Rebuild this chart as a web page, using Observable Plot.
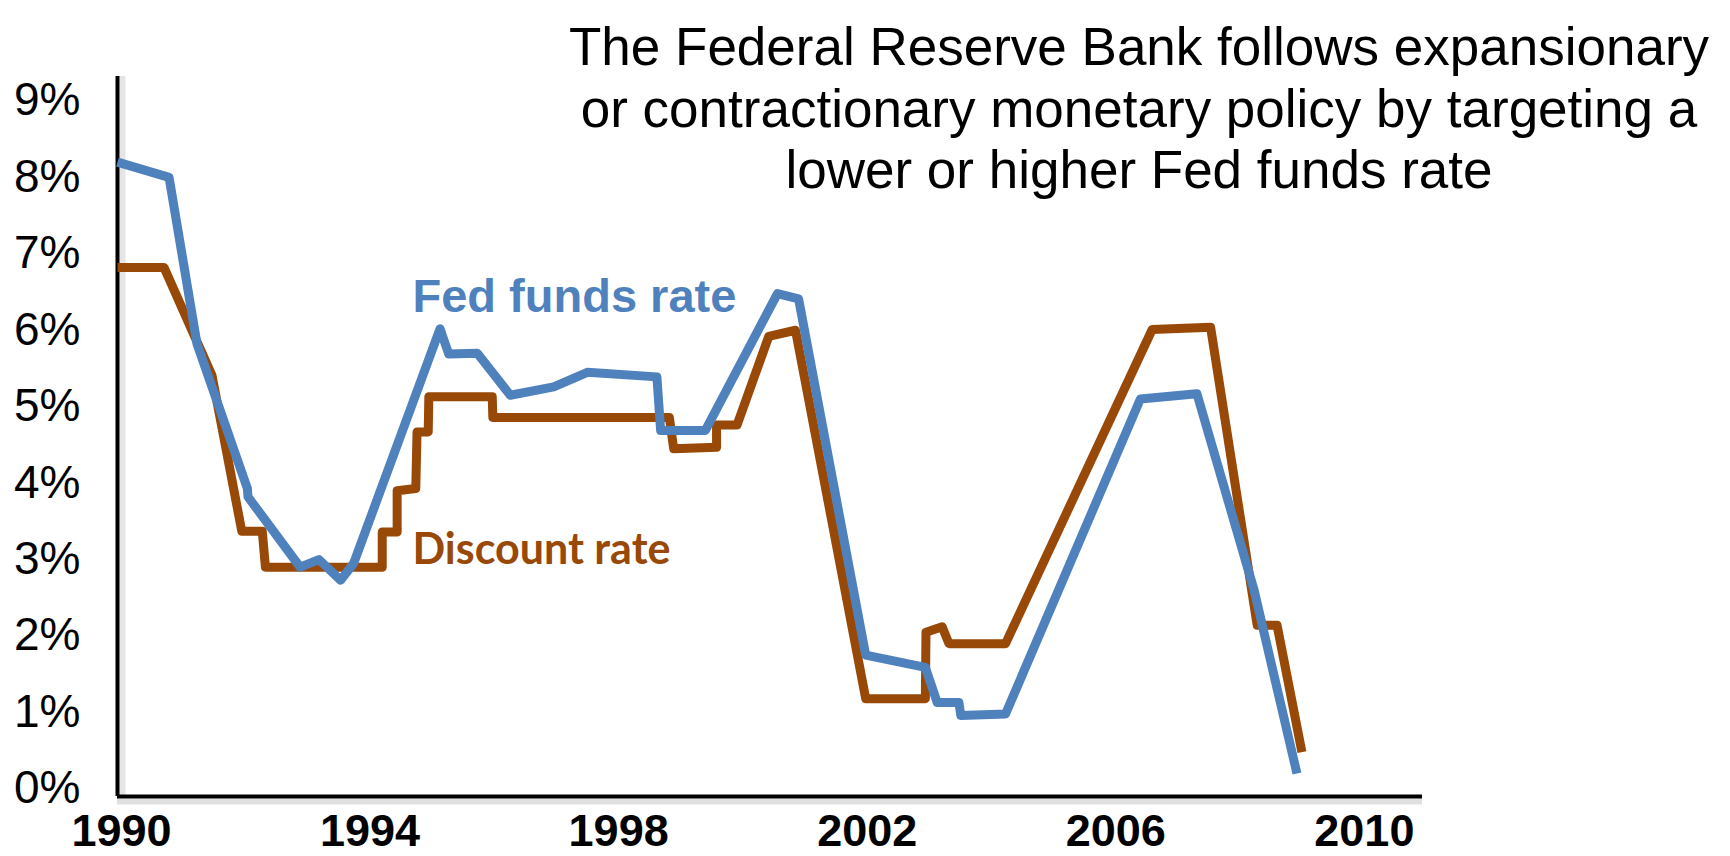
<!DOCTYPE html>
<html>
<head>
<meta charset="utf-8">
<script src="https://cdn.jsdelivr.net/npm/d3@7"></script>
<script src="https://cdn.jsdelivr.net/npm/@observablehq/plot@0.6"></script>
<style>
  html, body { margin: 0; padding: 0; background: #fff; }
  #chart { width: 1730px; height: 856px; }
</style>
</head>
<body>
<div id="chart"></div>
<script>
// ---- Data ----
const fedYears = [1990.00, 1990.83, 1991.28, 1992.09, 1992.10, 1992.94, 1993.24, 1993.59, 1993.80,
  1995.19, 1995.33, 1995.79, 1996.32, 1997.02, 1997.56, 1998.68, 1998.74, 1999.46,
  2000.62, 2000.96, 2002.04, 2003.00, 2003.19, 2003.54, 2003.57, 2004.29,
  2006.46, 2007.37, 2008.29, 2008.98];
const fedRates = [8.30, 8.10, 5.92, 4.03, 3.92, 3.00, 3.10, 2.83, 3.05,
  6.12, 5.79, 5.80, 5.25, 5.36, 5.55, 5.49, 4.79, 4.79,
  6.58, 6.51, 1.85, 1.69, 1.23, 1.23, 1.06, 1.08,
  5.20, 5.27, 2.70, 0.30];

const discYears = [1990.00, 1990.75, 1991.52, 1992.00, 1992.33, 1992.38, 1994.26, 1994.26, 1994.50, 1994.50,
  1994.80, 1994.82, 1995.00, 1995.01, 1996.03, 1996.04, 1998.88, 1998.95, 1999.64, 1999.64,
  1999.97, 2000.48, 2000.91, 2002.04, 2003.00, 2003.01, 2003.27, 2003.38, 2004.29,
  2006.65, 2007.59, 2008.34, 2008.66, 2009.06];
const discRates = [6.92, 6.92, 5.51, 3.47, 3.47, 3.00, 3.00, 3.46, 3.46, 4.00,
  4.03, 4.77, 4.77, 5.23, 5.23, 4.96, 4.96, 4.55, 4.57, 4.86,
  4.86, 6.02, 6.10, 1.28, 1.28, 2.15, 2.22, 2.00, 2.00,
  6.11, 6.14, 2.24, 2.24, 0.58];

const yTicks = [0, 1, 2, 3, 4, 5, 6, 7, 8, 9];
const xTicks = [1990, 1994, 1998, 2002, 2006, 2010];

const titleText = "The Federal Reserve Bank follows expansionary\nor contractionary monetary policy by targeting a\nlower or higher Fed funds rate";
const fedLabel = "Fed funds rate";
const discLabel = "Discount rate";

// ---- Build tables ----
const fed = fedYears.map((yr, i) => ({year: yr, rate: fedRates[i]}));
const disc = discYears.map((yr, i) => ({year: yr, rate: discRates[i]}));

const BLUE = "#4F81BD";
const BROWN = "#984807";
const XMIN = 1990, XMAX = 2011, YMAX = 9.42;
const SANS = "'Liberation Sans', Arial, Helvetica, sans-serif";

const chart = Plot.plot({
  width: 1730,
  height: 856,
  marginLeft: 117,
  marginRight: 308,
  marginTop: 76,
  marginBottom: 60,
  style: {fontFamily: SANS, background: "#fff", color: "#000"},
  x: {domain: [XMIN, XMAX]},
  y: {domain: [0, YMAX]},
  marks: [
    // axis shadows
    Plot.ruleY([0], {x1: XMIN, x2: XMAX, stroke: "#000", strokeOpacity: 0.12, strokeWidth: 6, dy: 5}),
    Plot.ruleX([XMIN], {y1: 0, y2: YMAX, stroke: "#000", strokeOpacity: 0.10, strokeWidth: 6, dx: 5}),
    // axis lines
    Plot.ruleY([0], {x1: XMIN, x2: XMAX, stroke: "#000", strokeWidth: 4}),
    Plot.ruleX([XMIN], {y1: 0, y2: YMAX, stroke: "#000", strokeWidth: 4}),
    Plot.axisY({
      ticks: yTicks, tickSize: 0, tickPadding: 37, tickFormat: d => d + "%",
      fontSize: 46, dy: -8, label: null, fontFamily: SANS
    }),
    Plot.axisX({
      ticks: xTicks, tickSize: 0, tickPadding: 18, tickFormat: d => String(d),
      fontSize: 45, fontWeight: "bold", dx: 4, label: null, fontFamily: SANS
    }),
    // series
    Plot.line(disc, {x: "year", y: "rate", stroke: BROWN, strokeWidth: 9, strokeLinejoin: "round", strokeLinecap: "butt"}),
    Plot.line(fed, {x: "year", y: "rate", stroke: BLUE, strokeWidth: 9, strokeLinejoin: "round", strokeLinecap: "butt"}),
    // series labels
    Plot.text([fedLabel], {
      frameAnchor: "top-left", text: d => d, textAnchor: "start", lineAnchor: "bottom",
      dx: 295, dy: 235, fill: BLUE, fontSize: 47, fontWeight: "bold", fontFamily: SANS
    }),
    Plot.text([discLabel], {
      frameAnchor: "top-left", text: d => d, textAnchor: "start", lineAnchor: "bottom",
      dx: 295, dy: 487, fill: BROWN, fontSize: 43, fontWeight: "bold",
      fontFamily: "Lato, 'Open Sans', sans-serif"
    }),
    // title
    Plot.text([titleText], {
      frameAnchor: "top", text: d => d, textAnchor: "middle", lineAnchor: "top",
      dx: 369, dy: -55, fill: "#000", fontSize: 53, lineHeight: 1.16, fontFamily: SANS
    })
  ]
});

document.getElementById("chart").appendChild(chart);
</script>
</body>
</html>
